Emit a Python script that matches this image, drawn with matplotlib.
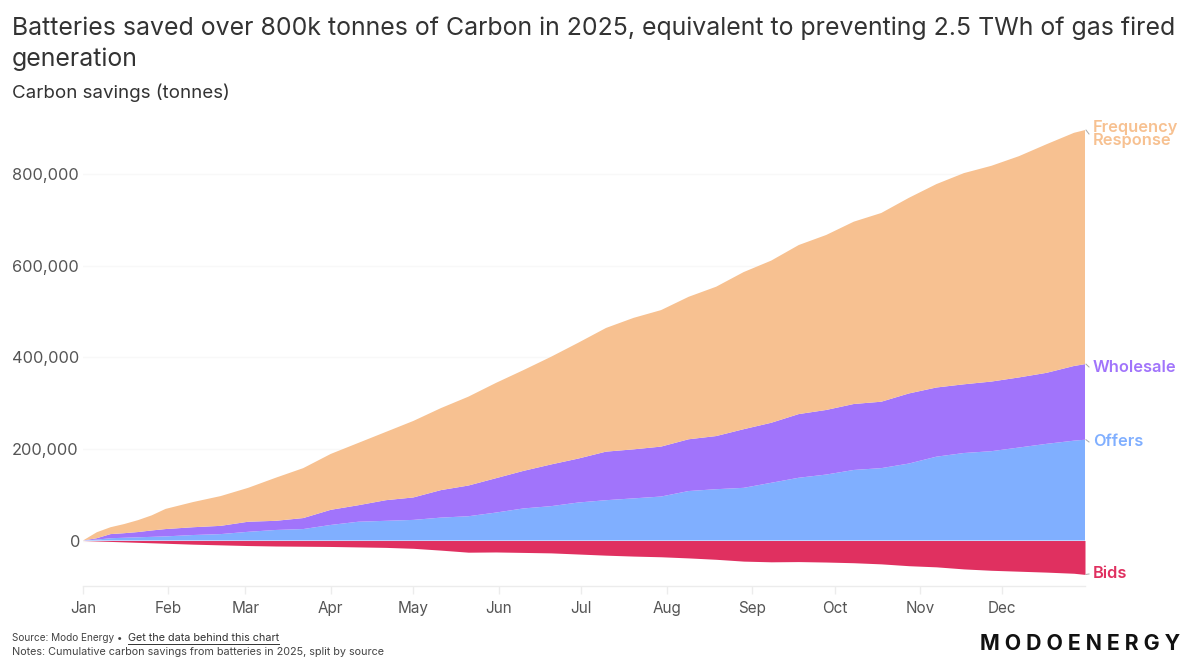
import matplotlib
matplotlib.use('Agg')
import matplotlib.pyplot as plt
from matplotlib.lines import Line2D

plt.rcParams['font.family'] = ['Inter', 'DejaVu Sans']

# Day of year
days = [0, 5, 10, 15, 20, 25, 30, 40, 50, 60, 70, 80, 90, 100, 110, 120, 130, 140, 150, 160, 170, 180, 190,
        200, 210, 220, 230, 240, 250, 260, 270, 280, 290, 300, 310, 320, 330, 340, 350, 360, 364]

# Cumulative carbon savings, thousand tonnes
offers = [0, 2, 5, 6, 7, 8, 9, 12, 14, 19, 23, 25, 34, 41, 43, 45, 50, 53, 61, 70, 75, 83, 88,
          92, 96, 108, 112, 115, 126, 137, 144, 154, 158, 168, 183, 191, 195, 203, 211, 218, 220]
wholesale = [0, 3, 9, 10, 11.5, 14, 16, 17, 18, 22, 20, 24, 33, 36, 45, 49, 60, 67, 75, 82, 91, 96, 106,
             107, 109, 113, 116, 128, 131, 139, 141, 144, 145, 153, 151, 150, 152, 153, 155, 163, 165]
frequency = [0, 13, 15, 20, 26, 33, 44, 55, 65, 74, 94, 109, 122, 136, 149, 167, 179, 194, 208, 220, 235, 253, 270,
             287, 298, 311, 326, 343, 354, 369, 382, 398, 412, 427, 444, 461, 471, 483, 499, 509, 511]
bids = [0, -1, -2, -3, -4, -5, -6, -8, -9.5, -11, -12, -12.5, -13, -14, -15, -17, -21, -25.5, -25, -26, -27, -29.5, -32,
        -34, -35.5, -38, -41, -45, -46.5, -46, -47, -48.5, -51, -55, -57.5, -62, -65, -67, -69, -71.5, -74]

month_days = [0, 31, 59, 90, 120, 151, 181, 212, 243, 273, 304, 334]
month_labels = ['Jan', 'Feb', 'Mar', 'Apr', 'May', 'Jun', 'Jul', 'Aug', 'Sep', 'Oct', 'Nov', 'Dec']
y_ticks = [0, 200, 400, 600, 800]

orange = '#F7C191'
purple = '#A174FB'
blue = '#80AFFF'
red = '#E03060'
W, H = 1200, 671

fig = plt.figure(figsize=(12, 6.71), dpi=100)
ax = fig.add_axes([83 / W, 1 - 586 / H, 1002 / W, 470 / H])

ax.stackplot(days, offers, wholesale, frequency, colors=[blue, purple, orange], linewidth=0, zorder=3)
ax.fill_between(days, 0, bids, color=red, linewidth=0, zorder=3)

ax.set_xlim(0, 364)
ax.set_ylim(-99.3, 926.7)

for s in ['top', 'left', 'right']:
    ax.spines[s].set_visible(False)
ax.spines['bottom'].set_color('#ececec')
ax.spines['bottom'].set_linewidth(1)

ax.set_xticks(month_days)
ax.set_xticklabels(month_labels)
ax.tick_params(axis='x', length=6, width=1, color='#ececec', labelcolor='#555555', labelsize=11, pad=5)
ax.set_yticks(y_ticks)
ax.set_yticklabels(['0', '200,000', '400,000', '600,000', '800,000'])
ax.tick_params(axis='y', length=0, labelcolor='#555555', labelsize=11.8, pad=0)
for lab in ax.get_yticklabels():
    lab.set_horizontalalignment('left')
    lab.set_x(-71 / 1002)
ax.get_yticklabels()[0].set_horizontalalignment('right')
ax.get_yticklabels()[0].set_x(-3 / 1002)
ax.grid(axis='y', color='#f8f8f8', linewidth=1, zorder=0)
ax.set_axisbelow(True)


# End-of-series labels with the small grey connector
def end_label(text, value, px_y, color):
    ax.annotate(text, xy=(364, value), xycoords='data',
                xytext=(1093 / W, 1 - px_y / H), textcoords='figure fraction',
                color=color, fontsize=11.8, fontweight='semibold', va='center', ha='left',
                linespacing=0.9, annotation_clip=False)
    y0 = ax.transData.transform((364, value))[1]
    y1 = (1 - px_y / H) * H
    if abs(y0 - y1) > 5:
        y1 = y0 - 5
    fig.add_artist(Line2D([1086 / W, 1089 / W], [y0 / H, y1 / H], color='#aaaaaa', linewidth=0.7))


top = [o + w + f for o, w, f in zip(offers, wholesale, frequency)]
end_label('Frequency\nResponse', top[-1], 134, orange)
end_label('Wholesale', offers[-1] + wholesale[-1], 367, purple)
end_label('Offers', offers[-1], 442, blue)
end_label('Bids', bids[-1], 574, red)

# Title block
fig.text(12 / W, 1 - 35.5 / H, 'Batteries saved over 800k tonnes of Carbon in 2025, equivalent to preventing 2.5 TWh of gas fired',
         fontsize=17.9, color='#333333', va='baseline')
fig.text(12 / W, 1 - 66 / H, 'generation', fontsize=17.9, color='#333333', va='baseline')
fig.text(12 / W, 1 - 98 / H, 'Carbon savings (tonnes)', fontsize=13.5, color='#333333', va='baseline')

# Footer
fig.text(12 / W, 1 - 638 / H, 'Source: Modo Energy \u2022', fontsize=7.2, color='#444444', va='center')
link = fig.text(128 / W, 1 - 638 / H, 'Get the data behind this chart', fontsize=7.8, color='#333333', va='center')
fig.text(12 / W, 1 - 652 / H, 'Notes: Cumulative carbon savings from batteries in 2025, split by source',
         fontsize=7.8, color='#444444', va='center')
fig.canvas.draw()
bb = link.get_window_extent()
fig.add_artist(Line2D([bb.x0 / W, bb.x1 / W], [1 - 643.5 / H, 1 - 643.5 / H], color='#333333', linewidth=0.7))

fig.text(1180 / W, 1 - 644 / H, 'M O D O E N E R G Y', fontsize=15.3, fontweight='bold', color='#111111',
         va='center', ha='right')

fig.savefig('out.png', dpi=100, facecolor='white')
